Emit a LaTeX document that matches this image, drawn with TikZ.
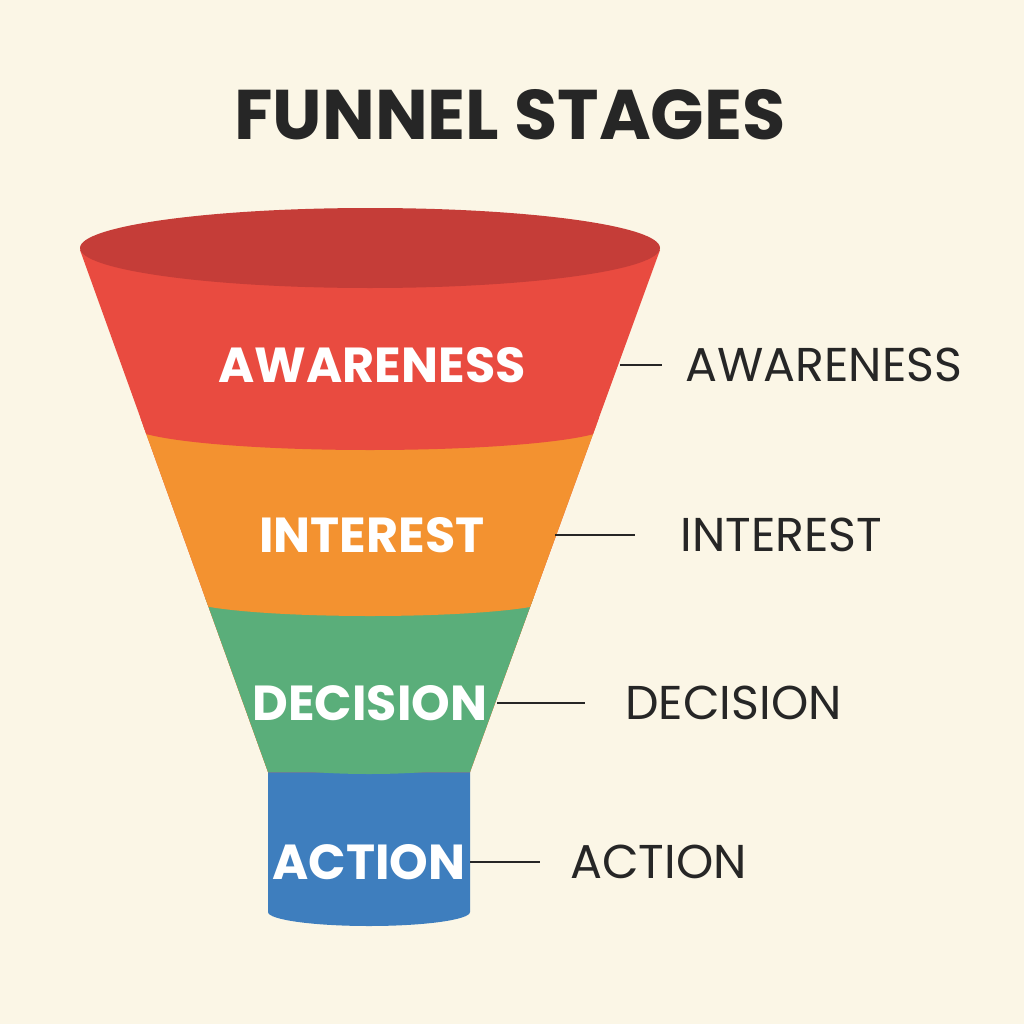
\documentclass[tikz,border=0pt]{standalone}
\usepackage{fontspec}
\setmainfont{Poppins}
\begin{document}
\begin{tikzpicture}[x=0.02cm,y=-0.02cm,
  inlab/.style={text=white,font=\fontsize{28}{30}\selectfont\bfseries,inner sep=0pt},
  outlab/.style={text=black!85,font=\fontsize{27}{30}\selectfont,anchor=west,inner sep=0pt},
  lead/.style={draw=black!85,line width=1.3pt}]
\definecolor{bg}{HTML}{FBF6E6}
\definecolor{cred}{HTML}{E94B40}
\definecolor{cdred}{HTML}{C53D38}
\definecolor{corange}{HTML}{F39230}
\definecolor{cgreen}{HTML}{5AAE7A}
\definecolor{cblue}{HTML}{3E7EBE}
\fill[bg] (0,0) rectangle (1024,1024);
\useasboundingbox (0,0) rectangle (1024,1024);
\node[text=black!85,font=\fontsize{40}{44}\selectfont\bfseries] (title) at (510,115) {FUNNEL STAGES};
% blue cylinder
\fill[cblue] (268,768) -- (268,912) arc[start angle=180,end angle=0,x radius=101,y radius=14] -- (470,768) -- cycle;
\begin{scope}
\clip (80,250) -- (268,772) -- (470,772) -- (660,250) -- cycle;
\fill[cred] (0,150) rectangle (1024,1100);
\fill[corange] (0,425) rectangle (1024,1100);
\fill[cred] (370,425) ellipse[x radius=240,y radius=25];
\fill[cgreen] (0,598) rectangle (1024,1100);
\fill[corange] (370,598) ellipse[x radius=185,y radius=18];
\end{scope}
\begin{scope}
\clip (0,760) rectangle (1024,800);
\fill[cgreen] (369,762) ellipse[x radius=101,y radius=12];
\end{scope}
\fill[cdred] (370,248) ellipse[x radius=290,y radius=40];
\node[inlab] (iaw) at (372,365) {AWARENESS};
\node[inlab] (iin) at (372,535) {INTEREST};
\node[inlab] (ide) at (370,703) {DECISION};
\node[inlab] (iac) at (369,862) {ACTION};
\node[outlab] (oaw) at (685,365) {AWARENESS};
\node[outlab] (oin) at (680,535) {INTEREST};
\node[outlab] (ode) at (625,703) {DECISION};
\node[outlab] (oac) at (570,862) {ACTION};
\coordinate (caw) at (620,365);
\coordinate (cin) at (555,535);
\coordinate (cde) at (497,703);
\coordinate (cac) at (470,862);
\draw[lead] (caw) -- ++(42,0);
\draw[lead] (cin) -- ++(80,0);
\draw[lead] (cde) -- ++(88,0);
\draw[lead] (cac) -- ++(70,0);
\end{tikzpicture}
\end{document}
